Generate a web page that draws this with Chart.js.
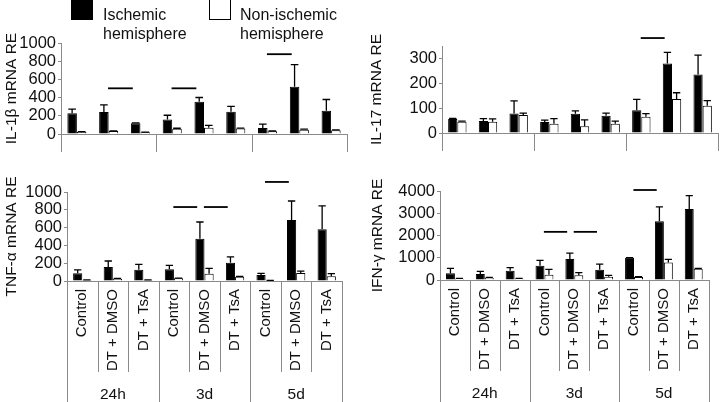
<!DOCTYPE html>
<html>
<head>
<meta charset="utf-8">
<script src="https://cdn.jsdelivr.net/npm/chart.js@4.4.0/dist/chart.umd.min.js"></script>
<style>
  body { margin: 0; width: 720px; height: 402px; position: relative; overflow: hidden; background: #fff;
         font-family: "Liberation Sans", Arial, sans-serif; color: #111; }
  .panel { position: absolute; }
  #legend { position: absolute; left: 0; top: 0; width: 360px; height: 44px; z-index: 2; font-size: 16px; line-height: 19px; }
  .box { position: absolute; top: -1px; width: 22px; height: 21px; box-sizing: border-box; border: 1px solid #000; }
  .txt { position: absolute; top: 5px; }
</style>
</head>
<body>
<div id="legend">
  <div class="box" style="left:71px;background:#000"></div>
  <div class="txt" style="left:103px">Ischemic<br>hemisphere</div>
  <div class="box" style="left:209px;background:#fff"></div>
  <div class="txt" style="left:240px">Non-ischemic<br>hemisphere</div>
</div>
<div class="panel" style="left:0;top:0"><canvas id="il1b" width="360" height="155"></canvas></div>
<div class="panel" style="left:360px;top:0"><canvas id="il17" width="360" height="155"></canvas></div>
<div class="panel" style="left:0;top:160px"><canvas id="tnf" width="360" height="242"></canvas></div>
<div class="panel" style="left:360px;top:160px"><canvas id="ifn" width="360" height="242"></canvas></div>
<script>
// x categories (3 treatments x 3 time points)
var categories = ['Control', 'DT + DMSO', 'DT + TsA', 'Control', 'DT + DMSO', 'DT + TsA', 'Control', 'DT + DMSO', 'DT + TsA'];
var timePoints = ['24h', '3d', '5d'];
var seriesNames = ['Ischemic hemisphere', 'Non-ischemic hemisphere'];

// IL-1b
var il1bTicks   = [0, 200, 400, 600, 800, 1000];
var il1bIsch    = [227, 242, 119, 159, 354, 245, 65, 520, 256];
var il1bIschErr = [47, 79, 4, 47, 47, 58, 43, 242, 123];
var il1bNon     = [22, 32, 18, 58, 69, 61, 29, 47, 40];
var il1bNonErr  = [4, 3, 3, 5, 25, 4, 4, 6, 5];
var il1bSig     = [[1, 2, 502], [3, 4, 502], [6, 7, 877]];

// IL-17
var il17Ticks   = [0, 100, 200, 300];
var il17Isch    = [56, 48, 78, 44, 77, 69, 92, 280, 235];
var il17IschErr = [3, 10, 51, 8, 12, 11, 43, 44, 78];
var il17Non     = [45, 45, 72, 37, 27, 37, 65, 137, 110];
var il17NonErr  = [3, 12, 8, 21, 26, 11, 13, 25, 20];
var il17Sig     = [[6, 7, 382]];

// TNF-a
var tnfTicks   = [0, 200, 400, 600, 800, 1000];
var tnfIsch    = [86, 157, 127, 131, 476, 206, 67, 685, 581];
var tnfIschErr = [38, 68, 60, 45, 187, 64, 19, 214, 262];
var tnfNon     = [11, 26, 11, 30, 82, 49, 7, 90, 52];
var tnfNonErr  = [2, 2, 2, 2, 60, 2, 1, 22, 30];
var tnfSig     = [[3, 4, 831], [4, 5, 831], [6, 7, 1113]];

// IFN-g
var ifnTicks   = [0, 1000, 2000, 3000, 4000];
var ifnIsch    = [300, 270, 420, 642, 940, 463, 1000, 2642, 3194];
var ifnIschErr = [222, 120, 132, 238, 269, 253, 10, 642, 597];
var ifnNon     = [60, 105, 60, 240, 210, 150, 135, 791, 507];
var ifnNonErr  = [10, 10, 10, 238, 120, 60, 20, 134, 15];
var ifnSig     = [[3, 4, 2164], [4, 5, 2164], [6, 7, 4045]];

var axisGrey = '#8a8a8a';
var font = 'Liberation Sans, Arial, sans-serif';

// error bars, significance lines and the divider lines under the axis
var extras = {
  id: 'extras',
  afterDatasetsDraw: function (chart, args, o) {
    var ctx = chart.ctx, y = chart.scales.y, x = chart.scales.x;
    ctx.save();
    ctx.strokeStyle = '#000';
    ctx.lineWidth = 1.3;
    o.errors.forEach(function (errs, di) {
      var meta = chart.getDatasetMeta(di);
      meta.data.forEach(function (bar, j) {
        var v = chart.data.datasets[di].data[j];
        var top = y.getPixelForValue(v + errs[j]);
        var base = y.getPixelForValue(v);
        var cap = bar.width * 0.4;
        ctx.beginPath();
        ctx.moveTo(bar.x, base); ctx.lineTo(bar.x, top);
        ctx.moveTo(bar.x - cap, top); ctx.lineTo(bar.x + cap, top);
        ctx.stroke();
      });
    });
    var w = x.width / categories.length;
    ctx.lineWidth = 1.8;
    o.sig.forEach(function (s) {
      var yy = y.getPixelForValue(s[2]);
      ctx.beginPath();
      ctx.moveTo(x.getPixelForValue(s[0]) - 0.02 * w, yy);
      ctx.lineTo(x.getPixelForValue(s[1]) - 0.24 * w, yy);
      ctx.stroke();
    });
    ctx.restore();
  },
  afterDraw: function (chart, args, o) {
    var ctx = chart.ctx, x = chart.scales.x;
    var n = categories.length, w = x.width / n;
    ctx.save();
    ctx.strokeStyle = axisGrey;
    ctx.lineWidth = 1;
    for (var b = 0; b <= n; b++) {
      var px = Math.round(x.left + b * w) + 0.5;
      var isGroup = b % 3 === 0;
      var bottom;
      if (o.labels) bottom = isGroup ? chart.height : x.bottom;
      else if (isGroup) bottom = x.top + 18;
      else continue;
      ctx.beginPath();
      ctx.moveTo(px, x.top); ctx.lineTo(px, bottom);
      ctx.stroke();
    }
    ctx.restore();
  }
};

function makePanel(id, p) {
  var scales = {
    x: {
      weight: 0,
      grid: { display: false, drawTicks: false },
      border: { color: axisGrey },
      ticks: {
        display: p.labels, autoSkip: false, minRotation: 90, maxRotation: 90,
        padding: 8, color: '#111', font: { family: font, size: 15 }
      },
      afterFit: function (s) { s.height = p.xh; }
    },
    y: {
      min: 0, max: p.max,
      ticks: {
        autoSkip: false, color: '#111', padding: 2, font: { family: font, size: 16.5 },
        callback: function (v) { return String(v); }
      },
      grid: { drawOnChartArea: false, drawTicks: true, tickLength: 3, color: axisGrey },
      border: { color: axisGrey },
      title: { display: true, text: p.title, color: '#111', padding: { top: 0, bottom: 0 }, font: { family: font, size: 15.5 } },
      afterBuildTicks: function (s) { s.ticks = p.ticks.map(function (v) { return { value: v }; }); },
      afterFit: function (s) { s.width = p.yw; }
    }
  };
  if (p.labels) {
    scales.x2 = {
      type: 'category', labels: timePoints, position: 'bottom', offset: true, weight: 1, display: true,
      grid: { display: false, drawTicks: false }, border: { display: false },
      ticks: { padding: 13, color: '#111', font: { family: font, size: 15.5 } },
      afterFit: function (s) { s.height = p.x2h; }
    };
  }
  return new Chart(document.getElementById(id), {
    type: 'bar',
    data: {
      labels: categories,
      datasets: [
        { label: seriesNames[0], data: p.isch, backgroundColor: '#000', borderColor: '#000', borderWidth: 1 },
        { label: seriesNames[1], data: p.non, backgroundColor: '#fff', borderColor: '#000', borderWidth: 1 }
      ]
    },
    options: {
      responsive: false,
      animation: false,
      categoryPercentage: 0.6,
      barPercentage: 1,
      layout: { padding: p.pad },
      plugins: {
        legend: { display: false },
        tooltip: { enabled: false },
        extras: { errors: [p.ischErr, p.nonErr], sig: p.sig, labels: p.labels }
      },
      scales: scales
    },
    plugins: [extras]
  });
}

makePanel('il1b', {
  title: 'IL-1\u03b2 mRNA RE', isch: il1bIsch, ischErr: il1bIschErr, non: il1bNon, nonErr: il1bNonErr, sig: il1bSig,
  ticks: il1bTicks, max: 1000, labels: false, yw: 59, xh: 18, pad: { top: 43, right: 13, bottom: 3, left: 2 }
});
makePanel('il17', {
  title: 'IL-17 mRNA RE', isch: il17Isch, ischErr: il17IschErr, non: il17Non, nonErr: il17NonErr, sig: il17Sig,
  ticks: il17Ticks, max: 350, labels: false, yw: 75, xh: 18, pad: { top: 46, right: 2, bottom: 4, left: 7 }
});
makePanel('tnf', {
  title: 'TNF-\u03b1 mRNA RE', isch: tnfIsch, ischErr: tnfIschErr, non: tnfNon, nonErr: tnfNonErr, sig: tnfSig,
  ticks: tnfTicks, max: 1000, labels: true, yw: 65, xh: 91, x2h: 30, pad: { top: 32, right: 18, bottom: 0, left: 2 }
});
makePanel('ifn', {
  title: 'IFN-\u03b3 mRNA RE', isch: ifnIsch, ischErr: ifnIschErr, non: ifnNon, nonErr: ifnNonErr, sig: ifnSig,
  ticks: ifnTicks, max: 4000, labels: true, yw: 72, xh: 91, x2h: 31, pad: { top: 31, right: 5, bottom: 0, left: 8 }
});
</script>
</body>
</html>
